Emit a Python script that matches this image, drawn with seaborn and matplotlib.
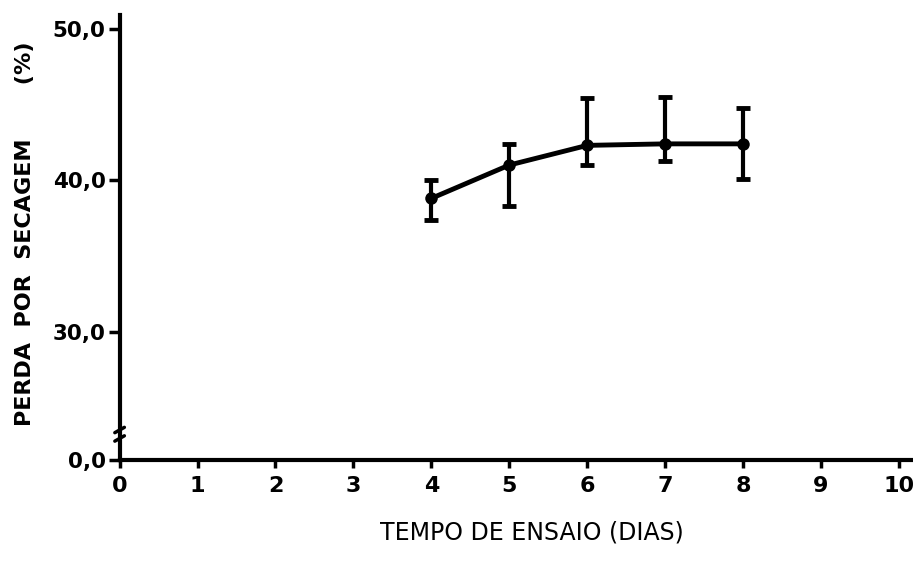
import numpy as np
import pandas as pd
import matplotlib
matplotlib.use("Agg")
import matplotlib.pyplot as plt
import seaborn as sns

# Drying loss (%) versus test time (days)
dias = [4, 5, 6, 7, 8]
perda = [38.8, 41.0, 42.3, 42.4, 42.4]
perda_min = [37.4, 38.3, 41.0, 41.3, 40.1]
perda_max = [40.0, 42.4, 45.4, 45.5, 44.8]

x_ticks = list(range(0, 11))
y_ticks = [21.5, 30.0, 40.0, 50.0]
y_tick_labels = ["0,0", "30,0", "40,0", "50,0"]

sns.set_theme(style="white")
plt.rcParams["font.family"] = ["DejaVu Sans"]
plt.rcParams["text.color"] = "black"
plt.rcParams["axes.labelcolor"] = "black"

df = pd.DataFrame({"dias": dias, "perda": perda})

fig = plt.figure(figsize=(9.13, 5.62), dpi=100)
ax = fig.add_axes([0.131, 0.181, 0.869, 0.792])

sns.lineplot(data=df, x="dias", y="perda", ax=ax, color="black",
             linewidth=3.5, marker="o", markersize=9, markeredgewidth=0)

yerr = np.array([np.array(perda) - np.array(perda_min),
                 np.array(perda_max) - np.array(perda)])
ax.errorbar(dias, perda, yerr=yerr, fmt="none", ecolor="black",
            elinewidth=3, capsize=5, capthick=3.5)

ax.set_xlim(0, 10.18)
ax.set_ylim(21.5, 50.9)

ax.set_xticks(x_ticks)
ax.set_xticklabels([str(v) for v in x_ticks], fontsize=16, fontweight="bold")
ax.set_yticks(y_ticks)
ax.set_yticklabels(y_tick_labels, fontsize=15.5, fontweight="bold")

for side in ("top", "right"):
    ax.spines[side].set_visible(False)
for side in ("left", "bottom"):
    ax.spines[side].set_linewidth(3)
    ax.spines[side].set_color("black")

ax.tick_params(axis="y", direction="out", length=8, width=2.5, pad=2,
               colors="black", left=True)
ax.tick_params(axis="x", direction="out", length=6, width=2.5, pad=5,
               colors="black", bottom=True)

ax.set_xlabel("TEMPO DE ENSAIO (DIAS)", fontsize=17)
ax.xaxis.set_label_coords(0.52, -0.135)
ax.set_ylabel("PERDA  POR  SECAGEM       (%)", fontsize=16,
              fontweight="bold")
ax.yaxis.set_label_coords(-0.107, 0.51)

# Axis break marker on the vertical axis
tr = ax.transAxes
ax.plot([-0.006, 0.006], [0.045, 0.065], transform=tr, color="white",
        linewidth=5, clip_on=False, solid_capstyle="butt")
for y0 in (0.043, 0.062):
    ax.plot([-0.006, 0.006], [y0, y0 + 0.012], transform=tr, color="black",
            linewidth=2.5, clip_on=False)

ax.grid(False)
fig.savefig("out.png", dpi=100, facecolor="white")
